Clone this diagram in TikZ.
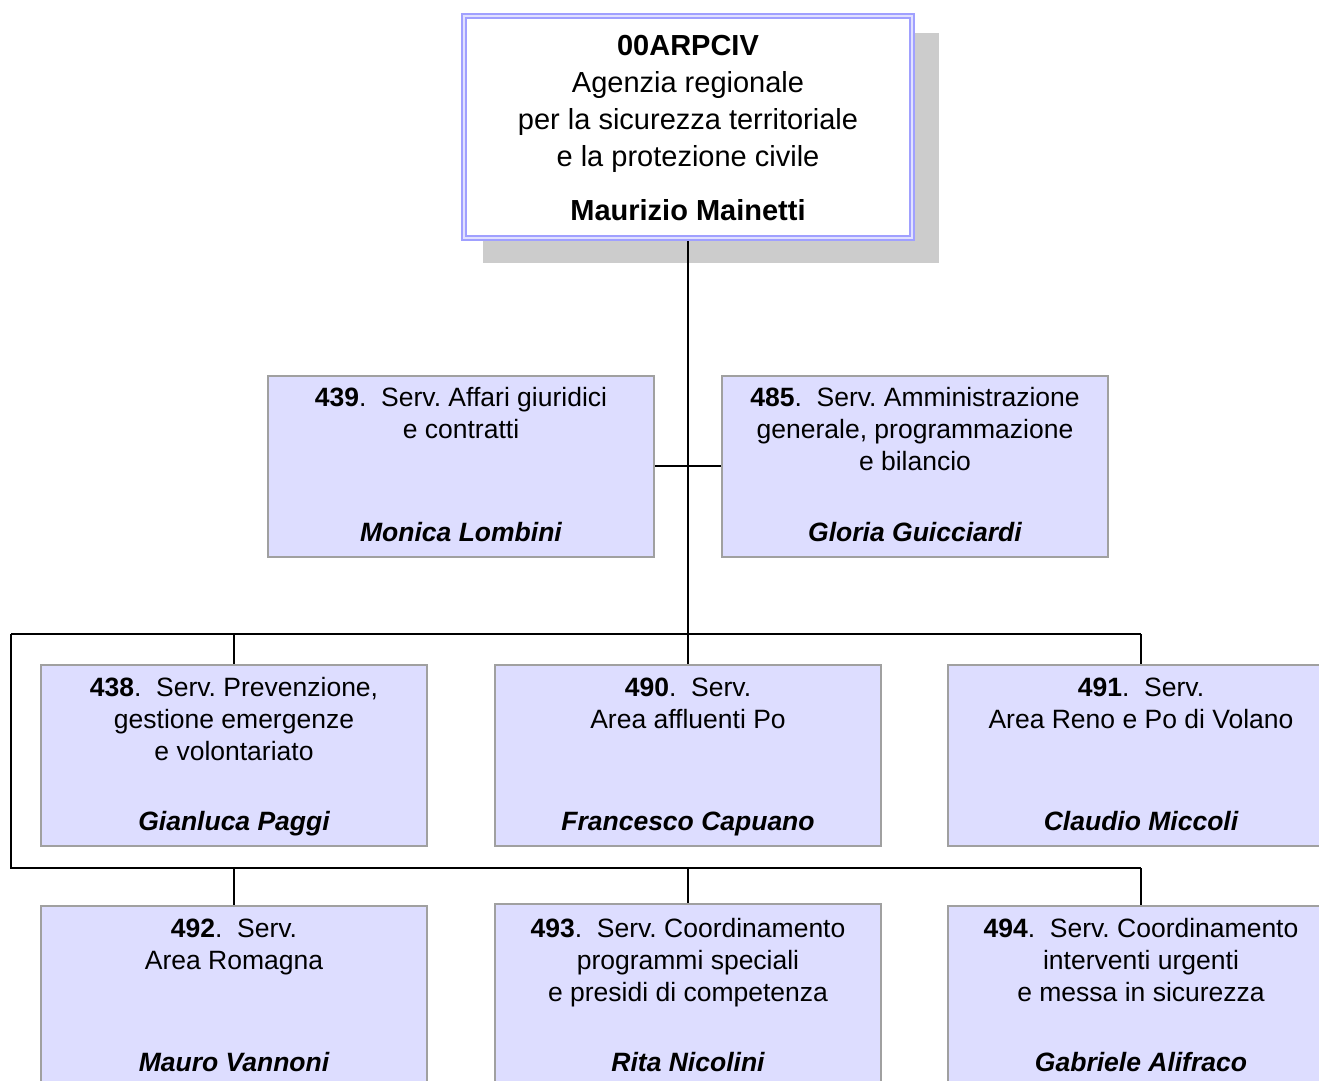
\documentclass[tikz,border=0pt]{standalone}
\usepackage{fontspec}
\setmainfont{Liberation Sans}
\usetikzlibrary{backgrounds}
\definecolor{lav}{RGB}{221,221,255}
\definecolor{gborder}{RGB}{160,160,160}
\definecolor{lavline}{RGB}{160,160,255}
\definecolor{palelav}{RGB}{225,225,255}
\definecolor{shadowgray}{RGB}{204,204,204}
\frenchspacing
\begin{document}
\begin{tikzpicture}[x=1pt,y=-1pt,
  unit/.style={draw=gborder, fill=lav, line width=1.5pt, minimum width=386pt, minimum height=181pt, inner sep=0pt, anchor=north},
  ttl/.style={anchor=north, align=center, inner sep=0pt, font=\fontsize{26.5}{32.3}\selectfont},
  who/.style={anchor=base, inner sep=0pt, font=\fontsize{26.5}{32.3}\selectfont\bfseries\itshape},
  link/.style={line width=1.8pt, black}]
\useasboundingbox (0,0) rectangle (1319,1080);
% top box
\node (top) [draw=lavline, line width=1.6pt, double=palelav, double distance=2.4pt, fill=white,
  minimum width=448pt, minimum height=222pt, inner sep=0pt, anchor=north] at (688,15) {};
\node (toptxt) [anchor=north, align=center, inner sep=0pt, font=\fontsize{29}{37}\selectfont] at (688,28)
  {\rule{0pt}{27pt}\textbf{00ARPCIV}\\Agenzia regionale\\per la sicurezza territoriale\\e la protezione civile};
\node (topwho) [anchor=base, inner sep=0pt, font=\fontsize{29}{37}\selectfont\bfseries] at (688,220) {Maurizio Mainetti};
% second row
\node (b439) [unit] at (461,375) {};
\node (t439) [ttl] at (461,382) {\rule{0pt}{24pt}\textbf{439}.\ \ Serv. Affari giuridici\\e contratti};
\node (n439) [who] at (461,541) {Monica Lombini};
\node (b485) [unit] at (915,375) {};
\node (t485) [ttl] at (915,382) {\rule{0pt}{24pt}\textbf{485}.\ \ Serv. Amministrazione\\generale, programmazione\\e bilancio};
\node (n485) [who] at (915,541) {Gloria Guicciardi};
% third row
\node (b438) [unit] at (234,664) {};
\node (t438) [ttl] at (234,672) {\rule{0pt}{24pt}\textbf{438}.\ \ Serv. Prevenzione,\\gestione emergenze\\e volontariato};
\node (n438) [who] at (234,830) {Gianluca Paggi};
\node (b490) [unit] at (688,664) {};
\node (t490) [ttl] at (688,672) {\rule{0pt}{24pt}\textbf{490}.\ \ Serv.\\Area affluenti Po};
\node (n490) [who] at (688,830) {Francesco Capuano};
\node (b491) [unit] at (1141,664) {};
\node (t491) [ttl] at (1141,672) {\rule{0pt}{24pt}\textbf{491}.\ \ Serv.\\Area Reno e Po di Volano};
\node (n491) [who] at (1141,830) {Claudio Miccoli};
% fourth row
\node (b492) [unit] at (234,905) {};
\node (t492) [ttl] at (234,913) {\rule{0pt}{24pt}\textbf{492}.\ \ Serv.\\Area Romagna};
\node (n492) [who] at (234,1071) {Mauro Vannoni};
\node (b493) [unit] at (688,903) {};
\node (t493) [ttl] at (688,913) {\rule{0pt}{24pt}\textbf{493}.\ \ Serv. Coordinamento\\programmi speciali\\e presidi di competenza};
\node (n493) [who] at (688,1071) {Rita Nicolini};
\node (b494) [unit] at (1141,905) {};
\node (t494) [ttl] at (1141,913) {\rule{0pt}{24pt}\textbf{494}.\ \ Serv. Coordinamento\\interventi urgenti\\e messa in sicurezza};
\node (n494) [who] at (1141,1071) {Gabriele Alifraco};
% connectors
\coordinate (bus1L) at (11,634);
\coordinate (bus1R) at (1141,634);
\coordinate (bus2L) at (11,868);
\coordinate (bus2R) at (1141,868);
\begin{scope}[on background layer]
  \fill[shadowgray] (483,33) rectangle (939,263);
  \draw[link] (top.south) -- (top.south |- bus1L);
  \draw[link] (b439.east) -- (b485.west);
  \draw[link] (bus1L) -- (bus1R);
  \draw[link] (bus1L) -- (bus2L) -- (bus2R);
  \draw[link] (b438.north) -- (b438.north |- bus1L);
  \draw[link] (b490.north) -- (b490.north |- bus1L);
  \draw[link] (b491.north) -- (b491.north |- bus1L);
  \draw[link] (b492.north) -- (b492.north |- bus2L);
  \draw[link] (b493.north) -- (b493.north |- bus2L);
  \draw[link] (b494.north) -- (b494.north |- bus2L);
\end{scope}
\end{tikzpicture}
\end{document}
